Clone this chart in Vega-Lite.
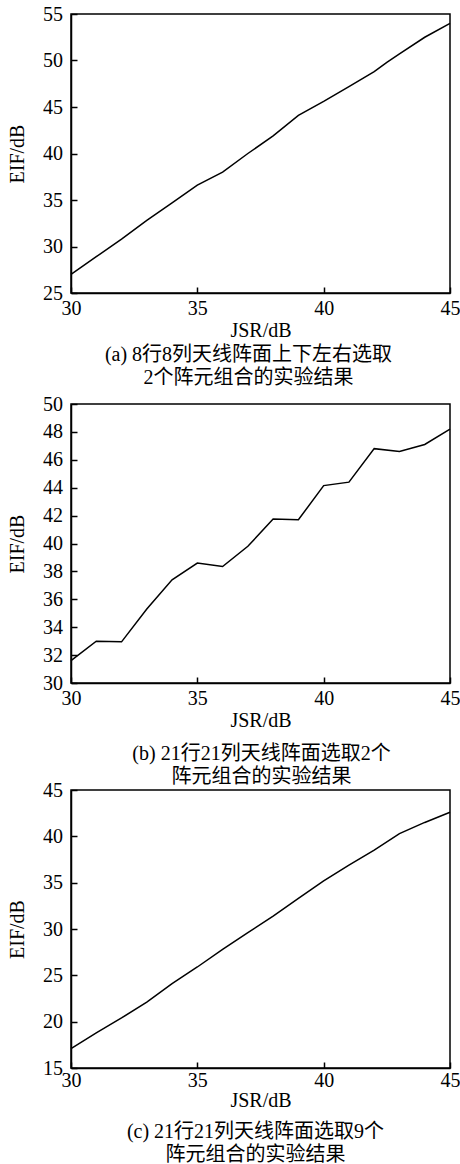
{
  "$schema": "https://vega.github.io/schema/vega-lite/v6.json",
  "background": "white",
  "padding": {"left": 6, "top": 3, "right": 0, "bottom": 0},
  "spacing": -9,
  "config": {
    "view": {"stroke": "black", "strokeWidth": 1.5},
    "font": "Liberation Serif, Noto Sans CJK SC",
    "axis": {"grid": false, "domainColor": "black", "domainWidth": 1.5, "tickColor": "black", "tickWidth": 1.5, "tickSize": -6, "labelFont": "Liberation Serif", "labelFontSize": 20, "labelColor": "black", "labelFlush": false, "labelOverlap": false, "titleFont": "Liberation Serif", "titleFontSize": 20, "titleFontWeight": "normal", "titleColor": "black"},
    "title": {"font": "Liberation Serif, Noto Sans CJK SC", "fontSize": 20, "fontWeight": "normal", "color": "black", "orient": "bottom", "anchor": "middle", "frame": "group", "lineHeight": 23}
  },
  "vconcat": [
    {
      "spacing": 4,
      "vconcat": [
        {
          "width": 379, "height": 279,
          "title": {"text": ["(a) 8行8列天线阵面上下左右选取", "2个阵元组合的实验结果"], "offset": 5, "dx": -12},
          "data": {"values": [
            {"jsr": 30, "eif": 27.0}, {"jsr": 31, "eif": 28.9}, {"jsr": 32, "eif": 30.8}, {"jsr": 33, "eif": 32.8},
            {"jsr": 34, "eif": 34.7}, {"jsr": 35, "eif": 36.6}, {"jsr": 36, "eif": 38.0}, {"jsr": 37, "eif": 40.0},
            {"jsr": 38, "eif": 41.9}, {"jsr": 39, "eif": 44.1}, {"jsr": 40, "eif": 45.6}, {"jsr": 41, "eif": 47.2},
            {"jsr": 42, "eif": 48.8}, {"jsr": 42.5, "eif": 49.8}, {"jsr": 43, "eif": 50.7}, {"jsr": 44, "eif": 52.5},
            {"jsr": 45, "eif": 54.0}
          ]},
          "mark": {"type": "line", "color": "black", "strokeWidth": 1.5},
          "encoding": {
            "x": {"field": "jsr", "type": "quantitative", "scale": {"domain": [30, 45], "nice": false}, "axis": {"values": [30, 35, 40, 45], "title": "JSR/dB", "labelPadding": 11, "titlePadding": 2}},
            "y": {"field": "eif", "type": "quantitative", "scale": {"domain": [25, 55], "nice": false, "zero": false}, "axis": {"values": [25, 30, 35, 40, 45, 50, 55], "title": "EIF/dB", "labelPadding": 14.5, "titlePadding": 15}}
          }
        },
        {
          "width": 379, "height": 279,
          "title": {"text": ["(b) 21行21列天线阵面选取2个", "阵元组合的实验结果"], "offset": 14, "dx": 1},
          "data": {"values": [
            {"jsr": 30, "eif": 31.6}, {"jsr": 31, "eif": 33.0}, {"jsr": 32, "eif": 32.95}, {"jsr": 33, "eif": 35.3},
            {"jsr": 34, "eif": 37.4}, {"jsr": 35, "eif": 38.6}, {"jsr": 36, "eif": 38.35}, {"jsr": 37, "eif": 39.8},
            {"jsr": 38, "eif": 41.75}, {"jsr": 39, "eif": 41.7}, {"jsr": 40, "eif": 44.15}, {"jsr": 41, "eif": 44.4},
            {"jsr": 42, "eif": 46.8}, {"jsr": 43, "eif": 46.6}, {"jsr": 44, "eif": 47.1}, {"jsr": 45, "eif": 48.2}
          ]},
          "mark": {"type": "line", "color": "black", "strokeWidth": 1.5},
          "encoding": {
            "x": {"field": "jsr", "type": "quantitative", "scale": {"domain": [30, 45], "nice": false}, "axis": {"values": [30, 35, 40, 45], "title": "JSR/dB", "labelPadding": 11, "titlePadding": 2}},
            "y": {"field": "eif", "type": "quantitative", "scale": {"domain": [30, 50], "nice": false, "zero": false}, "axis": {"values": [30, 32, 34, 36, 38, 40, 42, 44, 46, 48, 50], "title": "EIF/dB", "labelPadding": 14.5, "titlePadding": 15}}
          }
        }
      ]
    },
    {
      "width": 379, "height": 278,
      "title": {"text": ["(c) 21行21列天线阵面选取9个", "阵元组合的实验结果"], "offset": 12, "dx": -5},
      "data": {"values": [
        {"jsr": 30, "eif": 17.1}, {"jsr": 31, "eif": 18.8}, {"jsr": 32, "eif": 20.4}, {"jsr": 33, "eif": 22.1},
        {"jsr": 34, "eif": 24.1}, {"jsr": 35, "eif": 25.9}, {"jsr": 36, "eif": 27.8}, {"jsr": 37, "eif": 29.6},
        {"jsr": 38, "eif": 31.4}, {"jsr": 39, "eif": 33.3}, {"jsr": 40, "eif": 35.2}, {"jsr": 41, "eif": 36.9},
        {"jsr": 42, "eif": 38.5}, {"jsr": 43, "eif": 40.3}, {"jsr": 44, "eif": 41.5}, {"jsr": 45, "eif": 42.6}
      ]},
      "mark": {"type": "line", "color": "black", "strokeWidth": 1.5},
      "encoding": {
        "x": {"field": "jsr", "type": "quantitative", "scale": {"domain": [30, 45], "nice": false}, "axis": {"values": [30, 35, 40, 45], "title": "JSR/dB", "labelPadding": 8, "titlePadding": 0}},
        "y": {"field": "eif", "type": "quantitative", "scale": {"domain": [15, 45], "nice": false, "zero": false}, "axis": {"values": [15, 20, 25, 30, 35, 40, 45], "title": "EIF/dB", "labelPadding": 14.5, "titlePadding": 15}}
      }
    }
  ]
}
